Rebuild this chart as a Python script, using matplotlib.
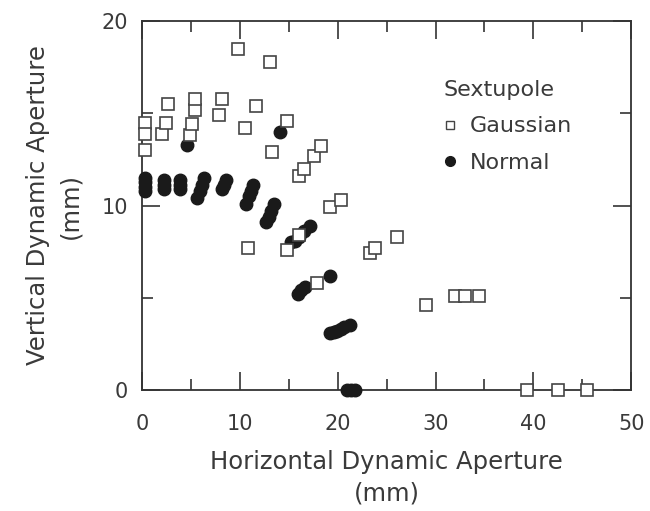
from matplotlib import pyplot as plt
from matplotlib.lines import Line2D
import numpy as np

# Gaussian sextupole errors (open squares)
gauss_x = [0.3, 0.3, 0.3, 2.0, 2.5, 2.7, 4.9, 5.1, 5.4, 5.4, 7.9, 8.2, 9.8,
           10.5, 10.8, 11.6, 13.1, 13.3, 14.8, 14.8, 16.0, 16.0, 16.6, 17.6,
           18.3, 17.9, 19.2, 20.3, 23.3, 23.8, 26.1, 29.0, 32.0, 33.0, 34.4,
           39.4, 42.5, 45.5]
gauss_y = [14.5, 13.9, 13.0, 13.9, 14.5, 15.5, 13.8, 14.4, 15.2, 15.8, 14.9,
           15.8, 18.5, 14.2, 7.7, 15.4, 17.8, 12.9, 14.6, 7.6, 8.4, 11.6, 12.0,
           12.7, 13.2, 5.8, 9.9, 10.3, 7.4, 7.7, 8.3, 4.6, 5.1, 5.1, 5.1,
           0, 0, 0]

# Normal sextupole errors (filled circles)
normal_x = [0.3, 0.3, 0.3, 0.3, 2.2, 2.2, 2.2, 3.9, 3.9, 3.9, 5.6, 5.9, 6.1,
            6.3, 8.2, 8.4, 8.6, 10.6, 10.9, 11.1, 11.3, 12.7, 13.0, 13.2,
            13.5, 15.2, 15.6, 16.0, 16.6, 17.2, 15.9, 16.3, 16.7, 19.2, 19.2,
            19.6, 19.9, 20.3, 20.6, 21.3, 21.0, 21.4, 21.8, 4.6, 14.1]
normal_y = [10.8, 11.0, 11.3, 11.5, 10.9, 11.1, 11.4, 10.9, 11.1, 11.4, 10.4,
            10.8, 11.1, 11.5, 10.9, 11.1, 11.4, 10.1, 10.5, 10.8, 11.1, 9.1,
            9.4, 9.7, 10.1, 8.0, 8.1, 8.3, 8.6, 8.9, 5.2, 5.4, 5.6, 6.2, 3.1,
            3.15, 3.2, 3.3, 3.4, 3.5, 0, 0, 0, 13.3, 14.0]

txt = '#3a3a3a'
plt.rcParams['font.family'] = 'DejaVu Sans'

fig = plt.figure(figsize=(6.5, 5.11), dpi=100)
ax = fig.add_axes([0.2185, 0.2368, 0.7525, 0.722])

ax.plot(normal_x, normal_y, 'o', ms=9, color='#1a1a1a', mec='#1a1a1a',
        clip_on=False, zorder=3)
ax.plot(gauss_x, gauss_y, 's', ms=8, mfc='white', mec='#444444', mew=1.2,
        clip_on=False, zorder=4)

ax.set_xlim(0, 50)
ax.set_ylim(0, 20)
ax.set_xticks([0, 10, 20, 30, 40, 50])
ax.set_xticks([5, 15, 25, 35, 45], minor=True)
ax.set_yticks([0, 10, 20])
ax.set_yticks([5, 15], minor=True)
ax.tick_params(which='both', direction='in', top=True, right=True,
               color='#333333', width=1.2, labelsize=15, labelcolor=txt)
ax.tick_params(which='major', length=13)
ax.tick_params(which='minor', length=8)
ax.tick_params(axis='x', which='major', pad=17)
ax.tick_params(axis='y', which='major', pad=10)
for s in ax.spines.values():
    s.set_color('#333333')
    s.set_linewidth(1.3)

ax.set_xlabel('Horizontal Dynamic Aperture\n(mm)', fontsize=17.5, color=txt,
              labelpad=12, linespacing=1.4)
ax.set_ylabel('Vertical Dynamic Aperture\n(mm)', fontsize=17.5, color=txt,
              labelpad=14, linespacing=1.45)

handles = [Line2D([], [], ls='none', marker='s', ms=6, mfc='white',
                  mec='#444444', mew=1.0, label='Gaussian'),
           Line2D([], [], ls='none', marker='o', ms=7, color='#1a1a1a',
                  label='Normal')]
leg = ax.legend(handles=handles, title='Sextupole', frameon=False,
                loc='upper left', bbox_to_anchor=(0.575, 0.895), fontsize=16,
                title_fontsize=16, handlelength=0.6, handletextpad=0.6,
                labelspacing=0.75, labelcolor=txt)
leg._legend_box.align = 'left'
leg.get_title().set_color(txt)

fig.savefig('out.png', dpi=100)
